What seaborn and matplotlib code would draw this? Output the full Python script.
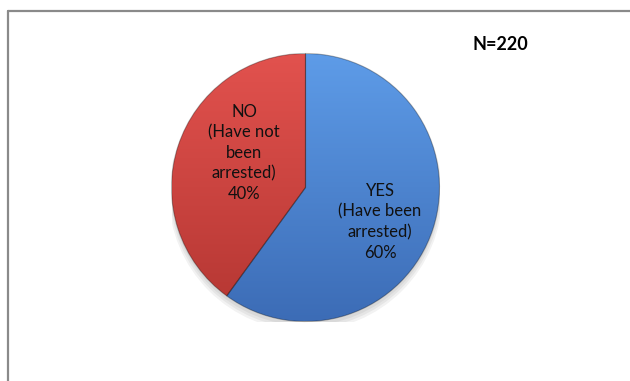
import numpy as np
import matplotlib
matplotlib.use("Agg")
import matplotlib.pyplot as plt
import matplotlib.colors as mcolors
import seaborn as sns

# Arrest survey responses
categories = ["YES", "NO"]
descriptions = ["(Have been\narrested)", "(Have not\nbeen\narrested)"]
shares = [60, 40]
sample_label = "N=220"

sns.set_style("white")
plt.rcParams["font.family"] = ["Lato", "DejaVu Sans"]

fig = plt.figure(figsize=(6.3, 3.81), dpi=100)

# Frame lines along the top and left
fig.add_artist(plt.Line2D([8 / 630, 1], [1 - 11 / 381, 1 - 11 / 381],
                          color="#8a8a8a", lw=1.6, transform=fig.transFigure))
fig.add_artist(plt.Line2D([8 / 630, 8 / 630], [0, 1 - 11 / 381],
                          color="#8a8a8a", lw=1.6, transform=fig.transFigure))

cx, cy, r = 305.5 / 630, 1 - 187.5 / 381, 134
ax = fig.add_axes([cx - r / 630, cy - r / 381, 2 * r / 630, 2 * r / 381])
ax.set_aspect("equal")
ax.axis("off")

# soft drop shadow below the pie
for k, a in enumerate([0.05, 0.05, 0.05]):
    ax.add_patch(plt.Circle((0.0, -0.03 - 0.01 * k), 1.0 + 0.01 * k,
                            color="black", alpha=a, lw=0, zorder=0))

wedges, _ = ax.pie(shares, startangle=90, counterclock=False,
                   colors=["#4a82d0", "#d0413d"], radius=1.0,
                   wedgeprops=dict(edgecolor="none", linewidth=0))

gradients = [("#5e9ce8", "#3c6cb6"), ("#e2524e", "#b43632")]
yy = np.linspace(1, 0, 256)[:, None] * np.ones((1, 4))
for w, (top, bottom) in zip(wedges, gradients):
    cmap = mcolors.LinearSegmentedColormap.from_list("g", [bottom, top])
    im = ax.imshow(yy, cmap=cmap, extent=(-1, 1, -1, 1), aspect="auto",
                   origin="upper", zorder=1, vmin=0, vmax=1)
    im.set_clip_path(w)
    w.set_facecolor("none")
    w.set_edgecolor((0, 0, 0, 0.3))
    w.set_linewidth(0.8)
    w.set_zorder(2)

ax.set_xlim(-1.0, 1.0)
ax.set_ylim(-1.0, 1.0)
ax.set_aspect("equal")

label_pos = [(380, 222), (244, 153)]
for cat, desc, val, (px, py) in zip(categories, descriptions, shares, label_pos):
    fig.text(px / 630, 1 - py / 381, f"{cat}\n{desc}\n{val}%",
             ha="center", va="center", fontsize=12, color="#111111",
             linespacing=1.33)

fig.text(500 / 630, 1 - 45 / 381, sample_label, ha="center", va="center",
         fontsize=13, fontweight="bold", color="black")

fig.savefig("out.png", dpi=100)
